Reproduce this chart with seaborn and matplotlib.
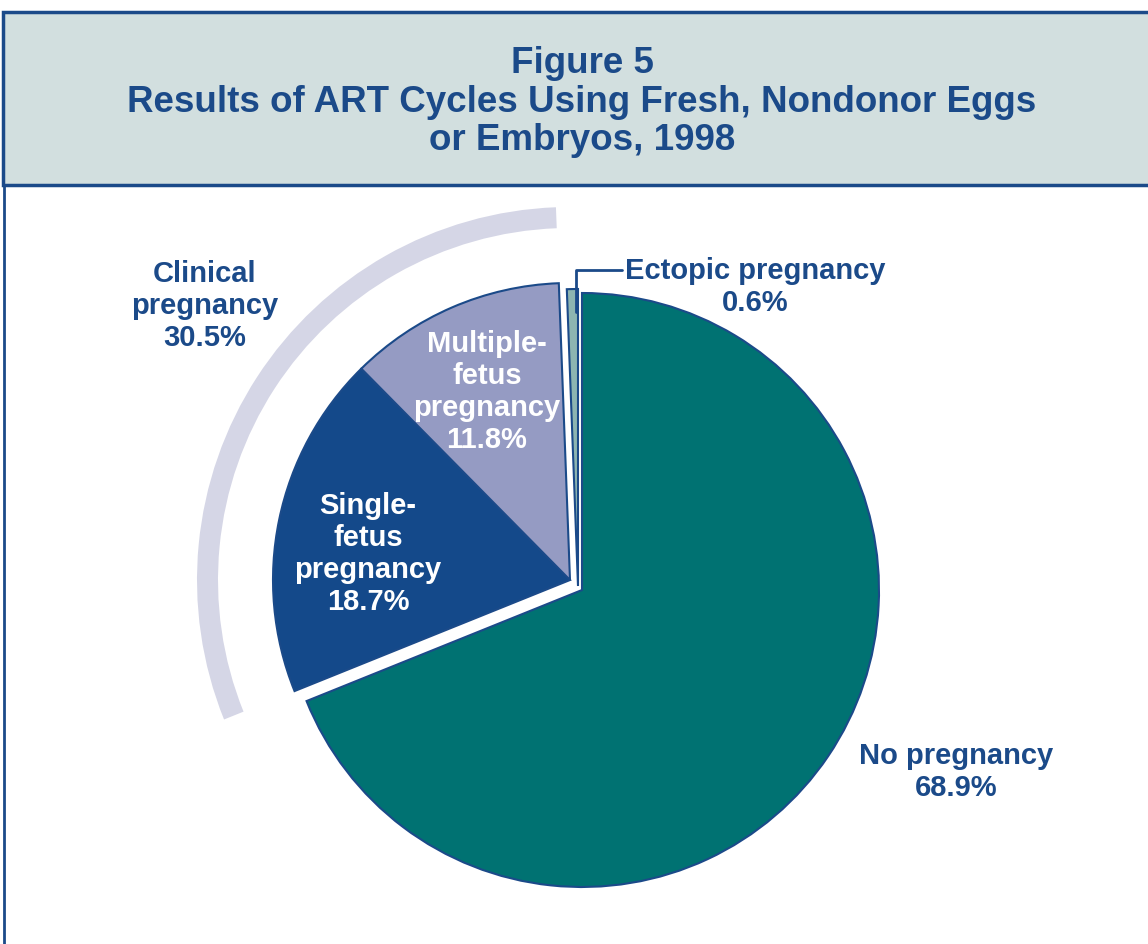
import matplotlib
matplotlib.use("Agg")
import matplotlib.pyplot as plt
import seaborn as sns
from matplotlib.patches import Rectangle

# data, in clockwise order from 12 o'clock
slice_names = ["No pregnancy", "Single-\nfetus\npregnancy", "Multiple-\nfetus\npregnancy", "Ectopic pregnancy"]
slice_shares = [68.9, 18.7, 11.8, 0.6]
clinical_name = "Clinical\npregnancy"
clinical_share = 30.5
title_lines = ["Figure 5", "Results of ART Cycles Using Fresh, Nondonor Eggs", "or Embryos, 1998"]

sns.set_theme(style="white")
plt.rcParams["font.family"] = ["Liberation Sans", "DejaVu Sans"]
plt.rcParams["font.weight"] = "bold"

navy = "#1b4a89"
slice_colors = ["#007272", "#14498a", "#959bc3", "#8db5b1"]
arc_color = "#d5d6e6"

W, H = 1148, 944
fig = plt.figure(figsize=(W / 100, H / 100), dpi=100)
ax = fig.add_axes([0, 0, 1, 1])

# pie in pixel coordinates (y up)
pie_center = (582, 354)
group_center = (570, 364)
wedges, _ = ax.pie(slice_shares, startangle=90, counterclock=False, colors=slice_colors,
                   center=pie_center, radius=297,
                   wedgeprops=dict(edgecolor=navy, linewidth=1.5))
# pull the pregnancy slices away from the rest
wedges[1].set_center(group_center)
wedges[2].set_center(group_center)
wedges[3].set_center((578, 358))

# outer band for clinical pregnancy (single + multiple)
arc, _ = ax.pie([clinical_share, 100 - clinical_share], startangle=90 + slice_shares[3] * 3.6,
                counterclock=True, colors=[arc_color, "none"], center=group_center,
                radius=373, wedgeprops=dict(width=21, linewidth=0))

ax.set_xlim(0, W)
ax.set_ylim(0, H)
ax.set_aspect("auto")
ax.axis("off")

# title box
ax.add_patch(Rectangle((3, H - 185), 1160, 173, facecolor="#d2dfdf", edgecolor=navy,
                       linewidth=2.5, clip_on=False, zorder=3))
ax.plot([4, 4], [0, H - 185], color=navy, linewidth=2, zorder=3)
ax.text(582, H - 102, "\n".join(title_lines), ha="center", va="center", color=navy,
        fontsize=26.5, fontweight="bold", linespacing=1.12, zorder=4)

lbl = dict(ha="center", va="center", fontsize=21, fontweight="bold", linespacing=1.19)
ax.text(956, H - 772, f"{slice_names[0]}\n{slice_shares[0]}%", color=navy, **lbl)
ax.text(368, H - 554, f"{slice_names[1]}\n{slice_shares[1]}%", color="white", **lbl)
ax.text(487, H - 392, f"{slice_names[2]}\n{slice_shares[2]}%", color="white", **lbl)
ax.text(755, H - 287, f"{slice_names[3]}\n{slice_shares[3]}%", color=navy, **lbl)
ax.text(205, H - 306, f"{clinical_name}\n{clinical_share}%", color=navy, **lbl)

# leader line to the ectopic slice
ax.plot([622, 576, 576], [H - 270, H - 270, H - 312], color=navy, linewidth=2)

fig.savefig("out.png", dpi=100)
